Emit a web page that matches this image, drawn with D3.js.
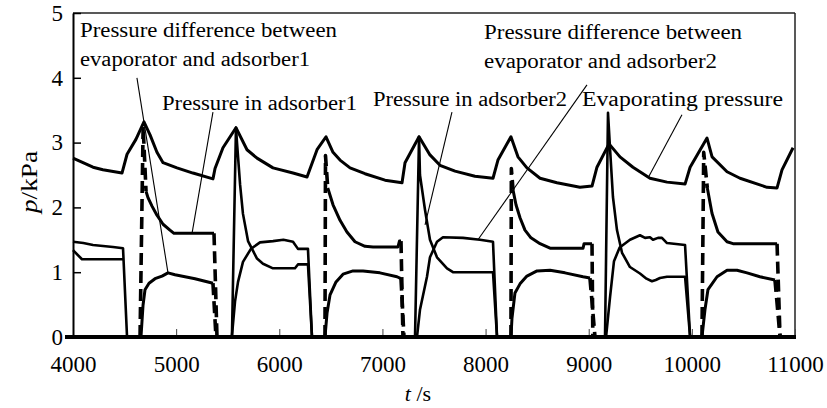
<!DOCTYPE html>
<html><head><meta charset="utf-8">
<script src="https://cdn.jsdelivr.net/npm/d3@7"></script>
<style>
body{margin:0;background:#fff;}
svg{display:block;}
</style>
</head><body>
<svg id="chart" width="827" height="408"></svg>
<script>
// ---------- data (t in s, p in kPa) ----------
const xTicks = [4000, 5000, 6000, 7000, 8000, 9000, 10000, 11000];
const yTicks = [0, 1, 2, 3, 4, 5];

const evaporating = [
  [4000,2.76],[4194,2.62],[4290,2.58],[4475,2.53],[4524,2.82],[4610,3.05],[4688,3.32],
  [4747,3.12],[4814,2.85],[4873,2.69],[5008,2.61],[5163,2.53],[5357,2.44],[5377,2.6],
  [5454,2.92],[5580,3.23],[5687,2.89],[5784,2.76],[5939,2.61],[6133,2.53],[6269,2.47],
  [6366,2.89],[6453,3.09],[6521,2.85],[6589,2.73],[6686,2.61],[6831,2.52],[7025,2.42],
  [7190,2.38],[7219,2.69],[7355,3.09],[7461,2.81],[7558,2.65],[7704,2.56],[7897,2.48],
  [8072,2.45],[8120,2.73],[8246,3.09],[8314,2.78],[8401,2.61],[8528,2.45],[8692,2.38],
  [8915,2.31],[9032,2.33],[9080,2.62],[9197,2.98],[9303,2.78],[9429,2.62],[9594,2.45],
  [9759,2.39],[9934,2.36],[9983,2.62],[10147,3.07],[10196,2.78],[10341,2.55],[10467,2.45],
  [10729,2.31],[10826,2.30],[10874,2.58],[10981,2.92]
];

const adsorber1 = [
  [4708,2.25],[4727,2.15],[4766,2.02],[4814,1.88],[4873,1.74],[4940,1.65],[4979,1.6],[5367,1.6], null,
  [6470,2.3],[6521,2.04],[6589,1.8],[6656,1.62],[6734,1.47],[6831,1.4],[6909,1.39],[7151,1.39],[7165,1.48],[7180,1.48], null,
  [8266,2.27],[8295,2.04],[8334,1.84],[8382,1.65],[8440,1.53],[8528,1.44],[8625,1.37],[8945,1.37],[8955,1.44],[9032,1.44], null,
  [10150,2.3],[10195,1.91],[10253,1.62],[10341,1.47],[10399,1.44],[10826,1.44]
];

const diff1 = [
  [4659,0],[4679,0.49],[4698,0.73],[4737,0.83],[4795,0.9],[4863,0.94],[4921,0.99],[4989,0.96],[5086,0.93],[5183,0.9],[5280,0.86],[5357,0.83], null,
  [6443,0],[6463,0.37],[6492,0.65],[6550,0.85],[6618,0.97],[6715,1.02],[6812,1.02],[6976,0.99],[7141,0.93],[7180,0.9], null,
  [8246,0],[8256,0.29],[8285,0.68],[8334,0.82],[8401,0.94],[8499,1.02],[8625,1.03],[8770,0.99],[8945,0.93],[9012,0.91], null,
  [10098,0],[10127,0.42],[10156,0.73],[10244,0.93],[10341,1.03],[10438,1.03],[10535,0.99],[10660,0.93],[10806,0.88]
];

// switching transitions of adsorber 1 (dashed)
const adsorber1Switch = [
  [[4650,0],[4680,3.25],[4708,2.25]],
  [[5367,1.6],[5396,0]],
  [[5357,0.83],[5386,0]],
  [[6443,0],[6448,2.8],[6470,2.3]],
  [[7180,1.48],[7199,0]],
  [[7180,0.9],[7209,0]],
  [[8246,0],[8250,2.6],[8266,2.27]],
  [[9032,1.44],[9040,0]],
  [[9012,0.91],[9061,0]],
  [[10098,0],[10115,2.85],[10150,2.3]],
  [[10826,1.44],[10855,0]],
  [[10806,0.88],[10855,0]]
];

const adsorber2 = [
  [4000,1.34],[4087,1.2],[4485,1.2], null,
  [5541,0],[5580,3.23],[5590,3.0],[5620,2.35],[5648,1.9],[5697,1.48],[5784,1.21],[5842,1.13],[5939,1.06],[6152,1.06],[6181,1.12],[6278,1.12],[6317,0], null,
  [7316,0],[7355,3.09],[7364,2.5],[7413,1.96],[7461,1.5],[7529,1.23],[7626,1.06],[7684,1.0],[8072,1.0],[8111,0], null,
  [9158,0],[9187,3.46],[9207,2.9],[9235,2.16],[9274,1.65],[9323,1.3],[9400,1.08],[9497,0.98],[9560,0.9],[9613,0.86],[9650,0.88],[9691,0.91],[9759,0.93],[9934,0.93],[9983,0]
];

const diff2 = [
  [4000,1.47],[4100,1.45],[4194,1.42],[4388,1.39],[4485,1.37],[4524,0], null,
  [5540,0],[5571,0.55],[5600,0.85],[5648,1.16],[5725,1.36],[5813,1.46],[5939,1.48],[6040,1.5],[6133,1.47],[6181,1.36],[6278,1.36],[6317,0], null,
  [7335,0],[7364,0.42],[7432,0.93],[7461,1.23],[7529,1.47],[7587,1.54],[7781,1.53],[7946,1.5],[8072,1.47],[8111,0], null,
  [9168,0],[9207,0.62],[9245,1.17],[9300,1.38],[9400,1.5],[9497,1.57],[9546,1.53],[9594,1.54],[9623,1.5],[9672,1.53],[9710,1.53],[9759,1.45],[9934,1.42],[9983,0]
];

// annotations: label text with anchor (t, p) and leader lines
const labelTexts = [
  "Pressure difference between", "evaporator and adsorber1", "Pressure in adsorber1",
  "Pressure in adsorber2", "Pressure difference between", "evaporator and adsorber2",
  "Evaporating pressure"
];
const labelAnchors = [[4068,4.63],[4068,4.18],[4863,3.50],[6909,3.56],[7985,4.60],[7985,4.15],[8935,3.56]];
const labelWidths = [257, 230, 195, 194, 258, 233, 201];
const leaders = [
  [[4620,4.0],[4921,0.99]],
  [[5357,3.47],[5154,1.6]],
  [[7674,3.47],[7413,1.73]],
  [[8983,3.89],[7926,1.5]],
  [[9904,3.43],[9584,2.48]]
];

// ---------- drawing ----------
const FONT = "'Liberation Serif'";
const svg = d3.select("#chart");
const x = d3.scaleLinear().domain([4000, 11000]).range([73, 795]);
const y = d3.scaleLinear().domain([0, 5]).range([337, 13]);

const line = d3.line().defined(d => d !== null).x(d => x(d[0])).y(d => y(d[1]));

// frame (top & right)
svg.append("line").attr("x1", x(4000)).attr("x2", x(11000)).attr("y1", y(5)).attr("y2", y(5))
  .attr("stroke", "#222").attr("stroke-width", 1.5);
svg.append("line").attr("x1", x(11000)).attr("x2", x(11000)).attr("y1", y(5)).attr("y2", y(0))
  .attr("stroke", "#222").attr("stroke-width", 1.5);

// series
const g = svg.append("g").attr("fill", "none").attr("stroke", "#000")
  .attr("stroke-linejoin", "round");

[diff2, adsorber2].forEach(s => g.append("path").attr("d", line(s)).attr("stroke-width", 2.6));
[diff1, adsorber1].forEach(s => g.append("path").attr("d", line(s)).attr("stroke-width", 3));
adsorber1Switch.forEach(s => g.append("path").attr("d", line(s))
  .attr("stroke-width", 3.6).attr("stroke-dasharray", "12,6"));
g.append("path").attr("d", line(evaporating)).attr("stroke-width", 3);

// leader lines
leaders.forEach(l => g.append("path").attr("d", line(l)).attr("stroke-width", 1.1));

// labels
labelTexts.forEach((t, i) => {
  svg.append("text")
    .attr("x", x(labelAnchors[i][0])).attr("y", y(labelAnchors[i][1]))
    .attr("font-family", FONT).attr("font-size", 20).attr("fill", "#000")
    .attr("textLength", labelWidths[i]).attr("lengthAdjust", "spacingAndGlyphs")
    .text(t);
});

// x axis
const xAxis = d3.axisBottom(x).tickValues(xTicks).tickFormat(d3.format("d"))
  .tickSizeInner(-8).tickSizeOuter(0).tickPadding(19);
const gx = svg.append("g").attr("transform", `translate(0,${y(0)})`)
  .call(xAxis).attr("font-family", FONT);
gx.select(".domain").remove();
gx.selectAll(".tick line").attr("stroke", "#444").attr("stroke-width", 1);
gx.selectAll(".tick text").attr("font-size", 23).attr("fill", "#000").attr("font-family", FONT);

// y axis
const yAxis = d3.axisLeft(y).tickValues(yTicks).tickFormat(d3.format("d"))
  .tickSizeInner(-8).tickSizeOuter(0).tickPadding(10);
const gy = svg.append("g").attr("transform", `translate(${x(4000)},0)`)
  .call(yAxis).attr("font-family", FONT);
gy.select(".domain").attr("stroke", "#000").attr("stroke-width", 2);
gy.selectAll(".tick line").attr("stroke", "#000").attr("stroke-width", 1.5);
gy.selectAll(".tick text").attr("font-size", 23).attr("fill", "#000").attr("font-family", FONT);

// thick baseline
svg.append("line").attr("x1", x(4000) - 8).attr("x2", x(11000) + 1)
  .attr("y1", y(0)).attr("y2", y(0)).attr("stroke", "#000").attr("stroke-width", 4);

// axis titles
const yt = svg.append("text").attr("transform", `translate(37,${(y(0)+y(5))/2 + 7}) rotate(-90)`)
  .attr("text-anchor", "middle").attr("font-size", 24).attr("font-family", FONT).attr("fill", "#000")
  .attr("textLength", 62).attr("lengthAdjust", "spacingAndGlyphs");
yt.append("tspan").attr("font-style", "italic").text("p");
yt.append("tspan").text("/kPa");

const xt = svg.append("text").attr("x", x(7345)).attr("y", 401)
  .attr("text-anchor", "middle").attr("font-size", 22).attr("font-family", FONT).attr("fill", "#000");
xt.append("tspan").attr("font-style", "italic").text("t");
xt.append("tspan").text(" /s");
</script>
</body></html>
